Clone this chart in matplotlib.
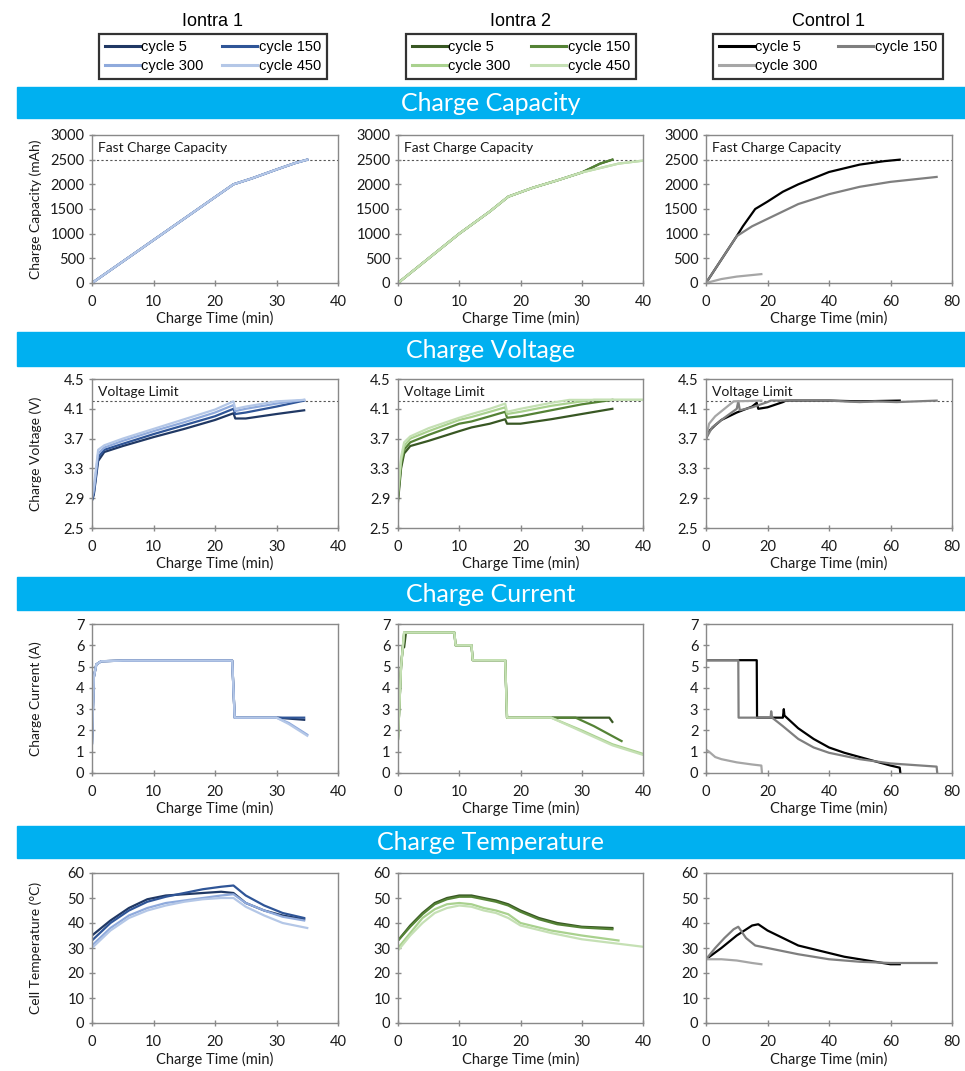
import matplotlib

matplotlib.use("Agg")
import matplotlib.pyplot as plt
from matplotlib.lines import Line2D
from matplotlib.patches import Rectangle

# ---- labels -------------------------------------------------------------
GROUPS = ["Iontra 1", "Iontra 2", "Control 1"]
CYCLES_IONTRA = ["cycle 5", "cycle 150", "cycle 300", "cycle 450"]
CYCLES_CONTROL = ["cycle 5", "cycle 150", "cycle 300"]
SECTIONS = ["Charge Capacity", "Charge Voltage", "Charge Current", "Charge Temperature"]
Y_LABELS = ["Charge Capacity (mAh)", "Charge Voltage (V)", "Charge Current (A)",
            "Cell Temperature (°C)"]
X_LABEL = "Charge Time (min)"

IONTRA1_COLORS = ["#203864", "#2F5597", "#8FAADC", "#B4C7E7"]
IONTRA2_COLORS = ["#385723", "#548235", "#A9D18E", "#C5E0B4"]
CONTROL_COLORS = ["#000000", "#7F7F7F", "#A6A6A6"]
BANNER_COLOR = "#00B0F0"

CAP_LIMIT = 2500
VOLT_LIMIT = 4.2

# ---- charge capacity (mAh) ---------------------------------------------
I1_CAP_T = [0, 10, 20, 23, 26, 30, 33, 35]
I1_CAP = [0, 870, 1740, 2000, 2120, 2300, 2430, 2500]

I2_CAP_T_SHORT = [0, 5, 10, 15, 18, 22, 26, 30, 33, 35]
I2_CAP_SHORT = [0, 500, 1000, 1450, 1750, 1930, 2080, 2240, 2420, 2500]
I2_CAP_T_LONG = [0, 5, 10, 15, 18, 22, 26, 30, 33, 36, 40]
I2_CAP_LONG = [0, 500, 1000, 1450, 1750, 1930, 2080, 2240, 2330, 2420, 2480]

C1_CAP5_T = [0, 10, 12, 16, 20, 25, 30, 40, 50, 58, 63]
C1_CAP5 = [0, 950, 1150, 1500, 1650, 1850, 2000, 2250, 2400, 2470, 2500]
C1_CAP150_T = [0, 10, 15, 20, 30, 40, 50, 60, 75]
C1_CAP150 = [0, 950, 1150, 1300, 1600, 1800, 1950, 2050, 2150]
C1_CAP300_T = [0, 5, 10, 18]
C1_CAP300 = [0, 80, 130, 180]

# ---- charge voltage (V) ------------------------------------------------
I1_V_T = [0, 0.3, 1, 2, 5, 10, 15, 20, 23, 23.3, 25, 30, 34.5]
I1_V5 = [2.87, 2.95, 3.40, 3.52, 3.60, 3.72, 3.83, 3.95, 4.04, 3.97, 3.97, 4.03, 4.08]
I1_V150 = [2.87, 2.97, 3.45, 3.55, 3.63, 3.76, 3.88, 4.00, 4.10, 4.03, 4.05, 4.13, 4.21]
I1_V300 = [2.90, 3.00, 3.50, 3.58, 3.67, 3.80, 3.92, 4.05, 4.15, 4.07, 4.10, 4.17, 4.22]
I1_V450 = [2.95, 3.05, 3.55, 3.61, 3.70, 3.83, 3.96, 4.09, 4.20, 4.10, 4.13, 4.20, 4.22]

I2_V_T = [0, 0.5, 1, 2, 5, 10, 12, 15, 17.5, 17.8, 20, 25, 30, 35]
I2_V5 = [2.85, 3.30, 3.50, 3.60, 3.67, 3.80, 3.85, 3.90, 3.96, 3.90, 3.90, 3.96, 4.03, 4.10]
I2_V150 = [2.90, 3.35, 3.55, 3.65, 3.75, 3.90, 3.93, 4.00, 4.06, 3.98, 4.00, 4.08, 4.16, 4.22]
I2_V300_T = [0, 0.5, 1, 2, 5, 10, 12, 15, 17.5, 17.8, 20, 25, 30, 32, 40]
I2_V300 = [2.95, 3.40, 3.60, 3.70, 3.80, 3.95, 3.99, 4.06, 4.12, 4.03, 4.06, 4.14, 4.20, 4.22, 4.22]
I2_V450_T = [0, 0.5, 1, 2, 5, 10, 12, 15, 17.5, 17.8, 20, 25, 28, 40]
I2_V450 = [3.00, 3.45, 3.65, 3.73, 3.84, 3.98, 4.03, 4.10, 4.17, 4.06, 4.10, 4.18, 4.22, 4.22]

C1_V5_T = [0, 1, 3, 5, 10, 15, 16.5, 17, 20, 25, 26, 40, 50, 63]
C1_V5 = [3.70, 3.80, 3.88, 3.95, 4.05, 4.13, 4.18, 4.10, 4.12, 4.19, 4.21, 4.21, 4.20, 4.21]
C1_V150_T = [0, 2, 5, 10, 10.5, 11, 15, 20, 21, 40, 50, 55, 62, 75]
C1_V150 = [3.70, 3.85, 3.95, 4.10, 4.20, 4.08, 4.12, 4.19, 4.21, 4.21, 4.19, 4.20, 4.19, 4.21]
C1_V300_T = [0, 1, 3, 6, 9, 18]
C1_V300 = [3.70, 3.90, 4.00, 4.10, 4.20, 4.21]

# ---- charge current (A) ------------------------------------------------
I1_I_T_A = [0, 0.3, 0.7, 1.5, 5, 22.8, 23.2, 30, 34.5]
I1_I5 = [1.4, 4.5, 5.1, 5.25, 5.28, 5.28, 2.60, 2.60, 2.50]
I1_I150 = [1.4, 4.5, 5.1, 5.25, 5.28, 5.28, 2.60, 2.60, 2.60]
I1_I_T_B = [0, 0.3, 0.7, 1.5, 5, 22.8, 23.2, 30, 32, 35]
I1_I300 = [1.4, 4.5, 5.1, 5.25, 5.28, 5.28, 2.60, 2.60, 2.35, 1.80]
I1_I450 = [1.4, 4.5, 5.1, 5.25, 5.28, 5.28, 2.60, 2.60, 2.30, 1.75]

I2_I5_T = [0, 0.5, 0.8, 1.0, 1.3, 9.2, 9.4, 12, 12.2, 17.5, 17.8, 34.5, 35]
I2_I5 = [1.6, 5.0, 6.0, 5.9, 6.6, 6.6, 6.0, 6.0, 5.3, 5.3, 2.6, 2.6, 2.4]
I2_I150_T = [0, 0.5, 1.0, 9.2, 9.4, 12, 12.2, 17.5, 17.8, 29, 32, 36.5]
I2_I150 = [1.6, 5.0, 6.6, 6.6, 6.0, 6.0, 5.3, 5.3, 2.6, 2.6, 2.2, 1.5]
I2_I300_T = [0, 0.5, 1.0, 9.2, 9.4, 12, 12.2, 17.5, 17.8, 25, 30, 35, 40]
I2_I300 = [1.6, 5.0, 6.6, 6.6, 6.0, 6.0, 5.3, 5.3, 2.6, 2.6, 2.0, 1.35, 0.9]
I2_I450 = [1.6, 5.0, 6.6, 6.6, 6.0, 6.0, 5.3, 5.3, 2.6, 2.6, 1.95, 1.30, 0.85]

C1_I5_T = [0, 16.5, 16.6, 25, 25.3, 25.5, 30, 35, 40, 45, 50, 55, 60, 63, 63.2]
C1_I5 = [5.3, 5.3, 2.6, 2.6, 3.0, 2.7, 2.1, 1.6, 1.2, 0.95, 0.75, 0.55, 0.35, 0.25, 0.0]
C1_I150_T = [0, 10.5, 10.6, 21, 21.2, 21.5, 25, 30, 35, 40, 50, 60, 70, 75, 75.2]
C1_I150 = [5.3, 5.3, 2.6, 2.6, 2.9, 2.6, 2.2, 1.6, 1.2, 0.95, 0.65, 0.45, 0.35, 0.30, 0.0]
C1_I300_T = [0, 1, 3, 5, 10, 15, 18, 18.2]
C1_I300 = [1.1, 1.0, 0.75, 0.65, 0.5, 0.4, 0.35, 0.0]

# ---- cell temperature (°C) ---------------------------------------------
I1_T_T = [0, 3, 6, 9, 12, 15, 18, 21, 23, 25, 28, 31, 34.5]
I1_T5 = [35, 41, 46, 49.5, 51, 51.5, 52, 52.5, 52, 48, 45, 43, 41.5]
I1_T150 = [33, 40, 45, 48.5, 50.5, 52, 53.5, 54.5, 55, 51, 47, 44, 42]
I1_T300 = [31, 38, 43, 46, 48, 49, 50, 51, 51.5, 48, 45, 42.5, 41]
I1_T450_T = [0, 3, 6, 9, 12, 15, 18, 21, 23, 25, 28, 31, 35]
I1_T450 = [30, 37, 42, 45, 47, 48.5, 49.5, 50, 50, 46.5, 43, 40, 38]

I2_T_T = [0, 2, 4, 6, 8, 10, 12, 14, 16, 18, 20, 23, 26, 30, 35]
I2_T5 = [33, 39, 44, 48, 50, 51, 51, 50, 49, 47.5, 45, 42, 40, 38.5, 38]
I2_T150 = [33, 38.5, 43.5, 47.5, 49.5, 50.5, 50.5, 49.5, 48.5, 47, 44.5, 41.5, 39.5, 38.2, 37.5]
I2_T300_T = [0, 2, 4, 6, 8, 10, 12, 14, 16, 18, 20, 25, 30, 36]
I2_T300 = [30, 36, 42, 45.5, 47.5, 48, 47.5, 46, 45, 43.5, 40, 37, 35, 33]
I2_T450_T = [0, 2, 4, 6, 8, 10, 12, 14, 16, 18, 20, 25, 30, 35, 40]
I2_T450 = [29, 35, 40, 44, 46, 47, 46.5, 45, 44, 42, 39, 36, 33.5, 32, 30.5]

C1_T5_T = [0, 5, 10, 15, 17, 20, 25, 30, 40, 45, 50, 55, 60, 63]
C1_T5 = [25.5, 30, 35, 39, 39.5, 37, 34, 31, 28, 26.5, 25.5, 24.5, 23.5, 23.5]
C1_T150_T = [0, 3, 6, 9, 10.5, 13, 16, 20, 30, 40, 50, 60, 70, 75]
C1_T150 = [25.5, 30, 34, 37.5, 38.5, 34, 31, 30, 27.5, 25.5, 24.5, 24, 24, 24]
C1_T300_T = [0, 5, 10, 15, 18]
C1_T300 = [25.5, 25.5, 25, 24, 23.5]

# ---- layout (pixels of the 965x1071 canvas) ----------------------------
W, H = 965, 1071
COL_LEFT = [92, 398, 706]
COL_RIGHT = [338, 643, 952]
ROW_TOP = [135, 379, 624, 873]
ROW_BOT = [283, 528, 773, 1023]
BANNERS = [(87, 118), (332, 366), (577, 610), (826, 858)]
LEGEND_BOX = [(99, 327), (406, 636), (713, 943)]
LEGEND_Y = (33, 80)

plt.rcParams["font.family"] = ["Lato", "DejaVu Sans"]
GRID_GRAY = "#898989"
TEXT = "#1a1a1a"


def fx(px):
    return px / W


def fy(py):
    return 1 - py / H


def style_axes(ax, xmax, xstep, ylim, ystep, ylabel=None, yfmt="{:g}"):
    ax.set_xlim(0, xmax)
    ax.set_ylim(*ylim)
    ax.set_xticks(range(0, xmax + 1, xstep))
    yt = []
    v = ylim[0]
    while v <= ylim[1] + 1e-9:
        yt.append(round(v, 2))
        v += ystep
    ax.set_yticks(yt)
    ax.set_yticklabels([yfmt.format(t) for t in yt])
    for sp in ax.spines.values():
        sp.set_color(GRID_GRAY)
        sp.set_linewidth(1.0)
    ax.tick_params(direction="inout", length=5, width=1.0, color=GRID_GRAY,
                   labelsize=10.5, labelcolor=TEXT)
    ax.tick_params(axis="x", pad=6)
    ax.tick_params(axis="y", pad=3)
    ax.set_xlabel(X_LABEL, fontsize=10.5, color=TEXT)
    ax.xaxis.set_label_coords(0.5, -0.19)
    if ylabel:
        ax.set_ylabel(ylabel, fontsize=10, color=TEXT)
        ax.yaxis.set_label_coords(-0.205, 0.5)


def draw(ax, series, colors, lw=1.6):
    for (t, y), c in zip(series, colors):
        ax.plot(t, y, color=c, lw=lw, solid_joinstyle="round")


def limit_line(ax, y, text):
    ax.axhline(y, color="#555555", lw=0.8, ls=(0, (2, 2)), zorder=0.5)
    ax.text(0.025, 0.955, text, transform=ax.transAxes, fontsize=10,
            ha="left", va="top", color=TEXT)


fig = plt.figure(figsize=(W / 100, H / 100), dpi=100, facecolor="white")

# blue section banners
for (top, bot), title in zip(BANNERS, SECTIONS):
    fig.patches.append(Rectangle((fx(17), fy(bot)), fx(965 - 17), (bot - top) / H,
                                 transform=fig.transFigure, color=BANNER_COLOR, zorder=0))
    fig.text(fx(491), fy((top + bot) / 2 + 1), title, color="white", fontsize=18,
             ha="center", va="center")

axes = []
for r in range(4):
    row = []
    for c in range(3):
        l, rr = COL_LEFT[c], COL_RIGHT[c]
        t, b = ROW_TOP[r], ROW_BOT[r]
        row.append(fig.add_axes([fx(l), fy(b), (rr - l) / W, (b - t) / H]))
    axes.append(row)

cap_i1 = [(I1_CAP_T, I1_CAP)] * 4
cap_i2 = [(I2_CAP_T_SHORT, I2_CAP_SHORT), (I2_CAP_T_SHORT, I2_CAP_SHORT),
          (I2_CAP_T_LONG, I2_CAP_LONG), (I2_CAP_T_LONG, I2_CAP_LONG)]
cap_c1 = [(C1_CAP5_T, C1_CAP5), (C1_CAP150_T, C1_CAP150), (C1_CAP300_T, C1_CAP300)]

volt_i1 = [(I1_V_T, I1_V5), (I1_V_T, I1_V150), (I1_V_T, I1_V300), (I1_V_T, I1_V450)]
volt_i2 = [(I2_V_T, I2_V5), (I2_V_T, I2_V150), (I2_V300_T, I2_V300), (I2_V450_T, I2_V450)]
volt_c1 = [(C1_V5_T, C1_V5), (C1_V150_T, C1_V150), (C1_V300_T, C1_V300)]

cur_i1 = [(I1_I_T_A, I1_I5), (I1_I_T_A, I1_I150), (I1_I_T_B, I1_I300), (I1_I_T_B, I1_I450)]
cur_i2 = [(I2_I5_T, I2_I5), (I2_I150_T, I2_I150), (I2_I300_T, I2_I300), (I2_I300_T, I2_I450)]
cur_c1 = [(C1_I5_T, C1_I5), (C1_I150_T, C1_I150), (C1_I300_T, C1_I300)]

tmp_i1 = [(I1_T_T, I1_T5), (I1_T_T, I1_T150), (I1_T_T, I1_T300), (I1_T450_T, I1_T450)]
tmp_i2 = [(I2_T_T, I2_T5), (I2_T_T, I2_T150), (I2_T300_T, I2_T300), (I2_T450_T, I2_T450)]
tmp_c1 = [(C1_T5_T, C1_T5), (C1_T150_T, C1_T150), (C1_T300_T, C1_T300)]

rows = [(cap_i1, cap_i2, cap_c1), (volt_i1, volt_i2, volt_c1),
        (cur_i1, cur_i2, cur_c1), (tmp_i1, tmp_i2, tmp_c1)]
palettes = [IONTRA1_COLORS, IONTRA2_COLORS, CONTROL_COLORS]
ylims = [((0, 3000), 500, "{:g}"), ((2.5, 4.5), 0.4, "{:.1f}"),
         ((0, 7), 1, "{:g}"), ((0, 60), 10, "{:g}")]

for r in range(4):
    for c in range(3):
        ax = axes[r][c]
        xmax, xstep = (80, 20) if c == 2 else (40, 10)
        lim, step, fmt = ylims[r]
        style_axes(ax, xmax, xstep, lim, step, Y_LABELS[r] if c == 0 else None, fmt)
        draw(ax, rows[r][c], palettes[c])
        if r == 0:
            limit_line(ax, CAP_LIMIT, "Fast Charge Capacity")
        elif r == 1:
            limit_line(ax, VOLT_LIMIT, "Voltage Limit")

# group titles and legends
for c, name in enumerate(GROUPS):
    x0, x1 = LEGEND_BOX[c]
    fig.text(fx((x0 + x1) / 2), fy(22), name, fontsize=13, ha="center", va="center",
             family=["Liberation Sans", "DejaVu Sans"])
    cycles = CYCLES_CONTROL if c == 2 else CYCLES_IONTRA
    handles = [Line2D([], [], color=col, lw=2.2) for col in palettes[c]]
    order = [0, 2, 1] if c == 2 else [0, 2, 1, 3]
    leg = fig.legend([handles[i] for i in order], [cycles[i] for i in order],
                     loc="center", ncol=2, mode="expand",
                     bbox_to_anchor=(fx(x0), fy(LEGEND_Y[1]), (x1 - x0) / W,
                                     (LEGEND_Y[1] - LEGEND_Y[0]) / H),
                     borderaxespad=0, fancybox=False, handlelength=2.4,
                     handletextpad=0.1, labelspacing=0.3, borderpad=0.4,
                     prop={"family": ["Liberation Sans Narrow", "Liberation Sans"],
                           "size": 10.5})
    frame = leg.get_frame()
    frame.set_edgecolor("black")
    frame.set_linewidth(1.6)

fig.savefig("out.png", dpi=100, facecolor="white")
